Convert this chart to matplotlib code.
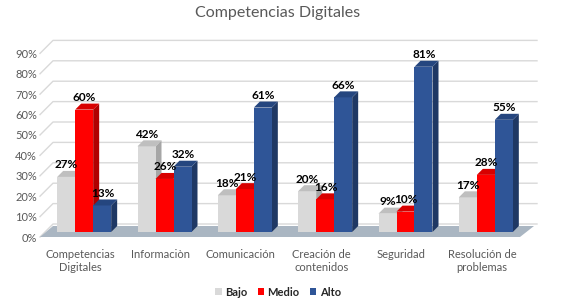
import matplotlib
matplotlib.use("Agg")
import matplotlib.pyplot as plt
from matplotlib.patches import Polygon, Patch
from matplotlib.transforms import ScaledTranslation

plt.rcParams['font.family'] = ['Lato', 'DejaVu Sans']

categories = ["Competencias\nDigitales", "Informaciòn", "Comunicación",
              "Creación de\ncontenidos", "Seguridad", "Resolución de\nproblemas"]
series_names = ["Bajo", "Medio", "Alto"]
bajo = [27, 42, 18, 20, 9, 17]
medio = [60, 26, 21, 16, 10, 28]
alto = [13, 32, 61, 66, 81, 55]
yticks = [0, 10, 20, 30, 40, 50, 60, 70, 80, 90]

front_cols = ["#d9d9d9", "#ff0000", "#2f5597"]
side_cols = ["#a6a6a6", "#b00000", "#1f3864"]
top_cols = ["#bfbfbf", "#d80000", "#25467f"]

W_PX, H_PX = 564, 306
fig = plt.figure(figsize=(W_PX / 100, H_PX / 100), dpi=100)
ax_l, ax_b, ax_w, ax_h = 44, 74, 482, 183.6
ax = fig.add_axes([ax_l / W_PX, ax_b / H_PX, ax_w / W_PX, ax_h / H_PX])
n = len(categories)
ax.set_xlim(-0.5, n - 0.5)
ax.set_ylim(0, 90)
for s in ax.spines.values():
    s.set_visible(False)

pxx = ax_w / n        # pixels per x unit
pxy = ax_h / 90.0     # pixels per y unit
def dx(p): return p / pxx
def dy(p): return p / pxy

x0, x1 = -0.5, n - 0.5
# gridlines (back wall with perspective)
for t in yticks:
    ax.plot([x0 - dx(4), x0 + dx(9), x1 + dx(11)], [t - dy(5), t + dy(8), t + dy(8)],
            color="#d9d9d9", lw=1, zorder=0, clip_on=False)

# floor
floor = Polygon([(x0 - dx(4), -dy(5)), (x1 - dx(6), -dy(5)),
                 (x1 + dx(8), dy(6)), (x0 + dx(9), dy(6))],
                closed=True, facecolor="#aab6c2", edgecolor="none", zorder=1, clip_on=False)
ax.add_patch(floor)

bw = 18 / pxx
ddx, ddy = dx(6), dy(6)
series = [bajo, medio, alto]
z = 2
for i in range(n):
    for j, vals in enumerate(series):
        v = vals[i]
        xl = i + (j - 1.5) * bw
        xr = xl + bw
        ax.bar(xl, v, width=bw, align="edge", color=front_cols[j], zorder=z, clip_on=False)
        side = Polygon([(xr, 0), (xr + ddx, ddy), (xr + ddx, v + ddy), (xr, v)],
                       closed=True, facecolor=side_cols[j], edgecolor="none", zorder=z - 0.5, clip_on=False)
        top = Polygon([(xl, v), (xr, v), (xr + ddx, v + ddy), (xl + ddx, v + ddy)],
                      closed=True, facecolor=top_cols[j], edgecolor="none", zorder=z, clip_on=False)
        ax.add_patch(side)
        ax.add_patch(top)
        z += 1
        ax.text(xl + bw / 2 + dx(0.5), v + dy(12), f"{v}%", ha="center", va="center",
                fontsize=8.5, fontweight="bold", color="#000000", zorder=100, clip_on=False)

ax.set_yticks(yticks)
ax.set_yticklabels([f"{t}%" for t in yticks], fontsize=8, color="#595959")
ax.tick_params(axis="y", length=0, pad=5)
for lab in ax.get_yticklabels():
    lab.set_transform(lab.get_transform() + ScaledTranslation(0, -0.05, fig.dpi_scale_trans))

ax.set_xticks(range(n))
ax.set_xticklabels(categories, fontsize=8, color="#595959", linespacing=1.15)
ax.tick_params(axis="x", length=0, pad=12.5)
for lab in ax.get_xticklabels():
    lab.set_transform(lab.get_transform() + ScaledTranslation(-0.04, 0, fig.dpi_scale_trans))

fig.text(278 / W_PX, 1 - 13 / H_PX, "Competencias Digitales", ha="center", va="center",
         fontsize=11.5, color="#595959")

handles = [Patch(facecolor=c, edgecolor="none") for c in front_cols]
leg = fig.legend(handles, series_names, loc="center", bbox_to_anchor=(278 / W_PX, 1 - 292 / H_PX),
                 ncol=3, frameon=False, handlelength=0.6, handleheight=0.6, handletextpad=0.3,
                 columnspacing=0.9, prop={"size": 8, "weight": "bold"})
for t in leg.get_texts():
    t.set_color("#262626")

fig.savefig("out.png", dpi=100)
